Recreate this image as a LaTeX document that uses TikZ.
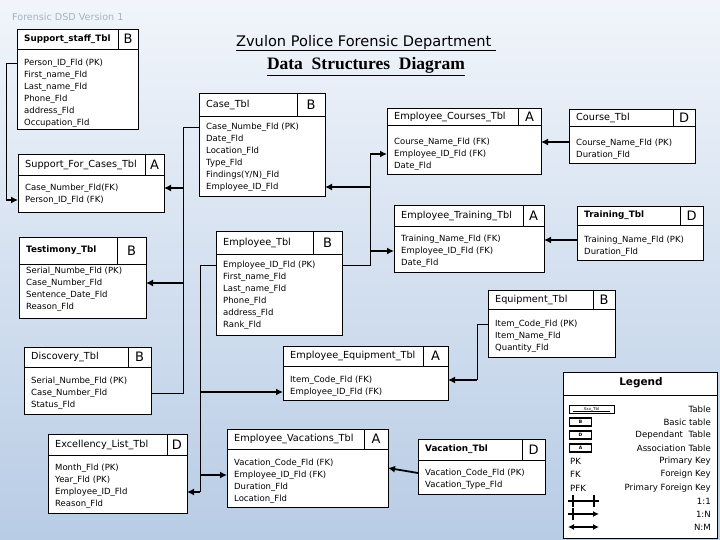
\documentclass[tikz,border=0pt]{standalone}
\usepackage{fontspec}
\setmainfont{DejaVu Sans}
\newfontfamily\titleserif{Liberation Serif}
\usetikzlibrary{positioning,calc,arrows.meta}

\definecolor{bgtop}{RGB}{241,245,251}
\definecolor{bgbot}{RGB}{184,204,229}
\definecolor{vergray}{RGB}{168,178,194}

\newcommand{\hdb}{\bfseries\fontsize{8.8}{10}\selectfont}

\tikzset{
  tblbox/.style={draw, fill=white, line width=0.8pt, inner sep=0pt, outer sep=0pt, anchor=north west},
  tblhead/.style={anchor=west, inner sep=0pt, font=\fontsize{9.7}{10}\selectfont},
  tbllet/.style={inner sep=0pt, font=\fontsize{13}{14}\selectfont},
  fld/.style={anchor=west, inner sep=0pt, font=\fontsize{8.5}{9}\selectfont},
  lnk/.style={line width=0.8pt},
  fk/.style={line width=1.8pt, -{Latex[length=7pt,width=7pt]}},
  lgdtxt/.style={anchor=east, inner sep=0pt, font=\fontsize{8.6}{9}\selectfont},
  keytxt/.style={anchor=west, inner sep=0pt, font=\fontsize{8.6}{9}\selectfont},
  keybox/.style={draw, line width=1.4pt, minimum width=22pt, minimum height=8pt, inner sep=0pt, font=\bfseries\fontsize{4.5}{5}\selectfont},
  keyline/.style={line width=1.3pt},
}

% #1 name, #2 top left, #3 width, #4 height, #5 header height,
% #6 letter cell width, #7 title, #8 letter, #9 fields
\newcommand{\dstbl}[9]{%
  \node[tblbox, minimum width=#3pt, minimum height=#4pt] (#1) at (#2) {};
  \draw[lnk] ($(#1.north west)+(0,#5)$) -- ++(#3,0);
  \draw[lnk] ($(#1.north east)+(-#6,0)$) -- ++(0,#5);
  \node[tblhead] (#1-h) at ($(#1.north west)+(7,#5/2)$) {#7};
  \node[tbllet] (#1-l) at ($(#1.north east)+(-#6/2,#5/2)$) {#8};
  \foreach \f [count=\i] in {#9}
    \node[fld] (#1-\i) at ($(#1.north west)+(7,22+12*\i)$) {\f};
}

\begin{document}
\begin{tikzpicture}[x=1pt, y=-1pt]
    \fill[top color=bgtop, bottom color=bgbot] (0,0) rectangle (720,540);
    \useasboundingbox (0,0) rectangle (720,540);

    \node[anchor=west, inner sep=0pt, text=vergray, font=\fontsize{9.6}{10}\selectfont] (ver) at (12,17) {Forensic DSD Version 1};
    \node[inner sep=0pt, font=\fontsize{14.6}{16}\selectfont] (ttl) at (366,43) {\underline{Zvulon Police Forensic Department\ }};
    \node[below=6pt of ttl, inner sep=0pt, font=\titleserif\bfseries\fontsize{17.5}{19}\selectfont] (sub) {\underline{Data\ \ Structures\ \ Diagram}};

    % tables
    \dstbl{staff}{17,29}{121}{100}{20}{20}{\hdb Support\_staff\_Tbl}{B}{Person\_ID\_Fld (PK), First\_name\_Fld, Last\_name\_Fld, Phone\_Fld, address\_Fld, Occupation\_Fld}
    \dstbl{sfc}{18,154}{146}{58}{21}{19}{Support\_For\_Cases\_Tbl}{A}{Case\_Number\_Fld(FK), Person\_ID\_Fld (FK)}
    \dstbl{tes}{19,237}{127}{81}{27}{29}{\hdb Testimony\_Tbl}{B}{Serial\_Numbe\_Fld (PK), Case\_Number\_Fld, Sentence\_Date\_Fld, Reason\_Fld}
    \dstbl{disc}{24,347}{127}{67}{20}{23}{Discovery\_Tbl}{B}{Serial\_Numbe\_Fld (PK), Case\_Number\_Fld, Status\_Fld}
    \dstbl{exc}{48,434}{139}{79}{21}{20}{Excellency\_List\_Tbl}{D}{Month\_Fld (PK), Year\_Fld (PK), Employee\_ID\_Fld, Reason\_Fld}
    \dstbl{case}{199,93}{126}{103}{23}{28}{Case\_Tbl}{B}{Case\_Numbe\_Fld (PK), Date\_Fld, Location\_Fld, Type\_Fld, Findings(Y/N)\_Fld, Employee\_ID\_Fld}
    \dstbl{emp}{216,231}{126}{104}{23}{29}{Employee\_Tbl}{B}{Employee\_ID\_Fld (PK), First\_name\_Fld, Last\_name\_Fld, Phone\_Fld, address\_Fld, Rank\_Fld}
    \dstbl{ecrs}{387,108}{154}{66}{17}{23}{Employee\_Courses\_Tbl}{A}{Course\_Name\_Fld (FK), Employee\_ID\_Fld (FK), Date\_Fld}
    \dstbl{crs}{569,109}{126}{54}{17}{22}{Course\_Tbl}{D}{Course\_Name\_Fld (PK), Duration\_Fld}
    \dstbl{etrn}{394,205}{150}{67}{21}{21}{Employee\_Training\_Tbl}{A}{Training\_Name\_Fld (FK), Employee\_ID\_Fld (FK), Date\_Fld}
    \dstbl{trn}{577,206}{126}{54}{19}{23}{\hdb Training\_Tbl}{D}{Training\_Name\_Fld (PK), Duration\_Fld}
    \dstbl{eqp}{488,290}{127}{67}{19}{22}{Equipment\_Tbl}{B}{Item\_Code\_Fld (PK), Item\_Name\_Fld, Quantity\_Fld}
    \dstbl{eeq}{283,346}{165}{54}{20}{25}{Employee\_Equipment\_Tbl}{A}{Item\_Code\_Fld (FK), Employee\_ID\_Fld (FK)}
    \dstbl{evac}{227,429}{161}{78}{20}{24}{Employee\_Vacations\_Tbl}{A}{Vacation\_Code\_Fld (FK), Employee\_ID\_Fld (FK), Duration\_Fld, Location\_Fld}
    \dstbl{vac}{418,439}{127}{55}{21}{23}{\hdb Vacation\_Tbl}{D}{Vacation\_Code\_Fld (PK), Vacation\_Type\_Fld}

    % bus lines
    \coordinate (sbus) at (6,0);
    \coordinate (cbus) at (183,0);
    \coordinate (ebusW) at (200,0);
    \coordinate (ebusE) at (370,0);
    \coordinate (qbus) at (477,0);

    \draw[lnk] (staff.west |- staff-1) -| (sbus |- sfc-2);
    \draw[fk] (sbus |- sfc-2) -- (sfc.west |- sfc-2);

    \draw[lnk] (case.west |- case-1) -| (cbus |- disc-2) -- (disc.east |- disc-2);
    \draw[fk] (cbus |- sfc-1) -- (sfc.east |- sfc-1);
    \draw[fk] (cbus |- tes-2) -- (tes.east |- tes-2);

    \draw[lnk] (emp.east |- emp-1) -| (ebusE |- ecrs-2);
    \draw[fk] (ebusE |- ecrs-2) -- (ecrs.west |- ecrs-2);
    \draw[fk] (ebusE |- case-6) -- (case.east |- case-6);
    \draw[fk] (ebusE |- etrn-2) -- (etrn.west |- etrn-2);
    \draw[lnk] (emp.west |- emp-1) -| (ebusW |- exc-3);
    \draw[fk] (ebusW |- eeq-2) -- (eeq.west |- eeq-2);
    \draw[fk] (ebusW |- exc-3) -- (exc.east |- exc-3);
    \draw[fk] (ebusW |- evac-2) -- (evac.west |- evac-2);

    \draw[lnk] (eqp.west |- eqp-1) -| (qbus |- eeq-1);
    \draw[fk] (qbus |- eeq-1) -- (eeq.east |- eeq-1);
    \draw[fk] (crs.west |- ecrs-1) -- (ecrs.east |- ecrs-1);
    \draw[fk] (trn.west |- trn-1) -- (etrn.east |- trn-1);
    \draw[fk] (vac.west |- vac-1) -- ($(evac.east |- evac-1)+(0,5)$);

    % legend
    \node[tblbox, minimum width=154pt, minimum height=166pt] (lgd) at (563,372) {};
    \draw[lnk] ($(lgd.north west)+(0,23)$) -- ++(154,0);
    \node[inner sep=0pt, font=\bfseries\fontsize{10.5}{12}\selectfont] (lgd-h) at (641,383) {Legend};
    \node[lgdtxt] (l1) at (711,409) {Table};
    \node[lgdtxt] (l2) at (711,422) {Basic table};
    \node[lgdtxt] (l3) at (711,435) {Dependant\ \ Table};
    \node[lgdtxt] (l4) at (711,448) {Association Table};
    \node[lgdtxt] (l5) at (711,461) {Primary Key};
    \node[lgdtxt] (l6) at (711,474) {Foreign Key};
    \node[lgdtxt] (l7) at (711,488) {Primary Foreign Key};
    \node[lgdtxt] (l8) at (711,501) {1:1};
    \node[lgdtxt] (l9) at (711,514) {1:N};
    \node[lgdtxt] (l10) at (711,527) {N:M};

    \node[draw, line width=0.6pt, minimum width=45pt, minimum height=8pt, inner sep=0pt, font=\fontsize{4}{4}\selectfont] (k1) at (591.5,409) {Xxx\_Tbl};
    \draw[line width=0.5pt] ($(k1.south west)+(4,-2)$) -- ($(k1.south east)+(-4,-2)$);
    \node[keybox] (k2) at (580.5,422) {B};
    \node[keybox] (k3) at (580.5,435) {D};
    \node[keybox] (k4) at (580.5,448) {A};
    \node[keytxt] (k5) at (570,461) {PK};
    \node[keytxt] (k6) at (570,474) {FK};
    \node[keytxt] (k7) at (570,488) {PFK};
    \coordinate (k8a) at (568,501); \coordinate (k8b) at (599,501);
    \coordinate (k9a) at (568,514); \coordinate (k9b) at (599,514);
    \coordinate (k10a) at (568,527); \coordinate (k10b) at (599,527);
    \draw[keyline] (k8a) -- (k8b);
    \draw[keyline] ($(k8a)+(5,-6)$) -- ++(0,12);
    \draw[keyline] ($(k8b)+(-5,-6)$) -- ++(0,12);
    \draw[keyline, -{Latex[length=6pt,width=6pt]}] (k9a) -- (k9b);
    \draw[keyline] ($(k9a)+(5,-6)$) -- ++(0,12);
    \draw[keyline, {Latex[length=6pt,width=6pt]}-{Latex[length=6pt,width=6pt]}] (k10a) -- (k10b);
\end{tikzpicture}
\end{document}
